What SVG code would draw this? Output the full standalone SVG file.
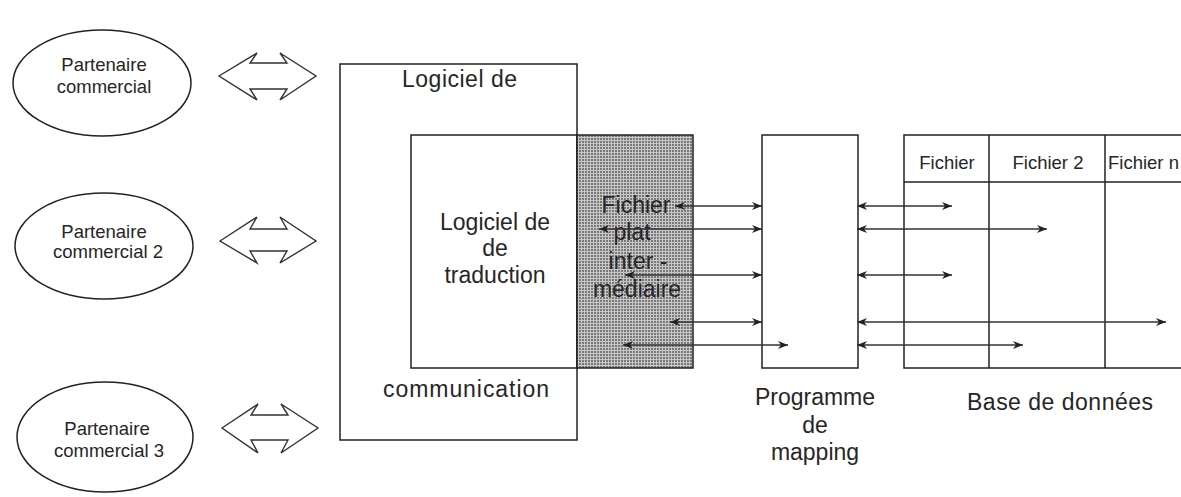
<svg xmlns="http://www.w3.org/2000/svg" width="1181" height="497" viewBox="0 0 1181 497">
<style>
.box{fill:none;stroke:#222;stroke-width:1.5}
.ell{fill:#fff;stroke:#222;stroke-width:1.5}
.dbl{fill:#fff;stroke:#333;stroke-width:1.4;stroke-linejoin:miter}
.con{stroke:#333;stroke-width:1.3;fill:none;marker-start:url(#ah);marker-end:url(#ah)}
.t{font-family:"Liberation Sans",Arial,sans-serif;fill:#262626}
.big{font-size:23px}
.sm{font-size:18.5px}
.m{text-anchor:middle}
</style>
<defs>
<pattern id="dots" width="3" height="3" patternUnits="userSpaceOnUse">
<rect width="3" height="3" fill="#c6c6c6"/>
<rect width="2" height="2" fill="#7a7a7a"/>
</pattern>
<marker id="ah" viewBox="0 0 10 8" refX="10" refY="4" markerWidth="10" markerHeight="8" markerUnits="userSpaceOnUse" orient="auto-start-reverse">
<path d="M0,0 L10,4 L0,8 L3,4 z" fill="#222"/>
</marker>
</defs>
<rect width="1181" height="497" fill="#fff"/>

<g id="partenaire1">
<ellipse class="ell" cx="102" cy="83" rx="89" ry="53"/>
<text class="t sm m" x="104" y="71">Partenaire</text>
<text class="t sm m" x="104" y="93">commercial</text>
</g>
<g id="partenaire2">
<ellipse class="ell" cx="104" cy="246" rx="89" ry="53"/>
<text class="t sm m" x="104" y="238">Partenaire</text>
<text class="t sm m" x="108" y="258">commercial  2</text>
</g>
<g id="partenaire3">
<ellipse class="ell" cx="105" cy="437" rx="88" ry="55"/>
<text class="t sm m" x="107" y="435">Partenaire</text>
<text class="t sm m" x="109" y="457">commercial  3</text>
</g>

<g id="echanges">
<polygon class="dbl" points="219,76 257,53 250,63 287,63 280,53 316,76 280,100 287,89 250,89 257,100"/>
<polygon class="dbl" points="220,241 257,217 250,229 287,229 280,217 316,241 280,263 287,251 250,251 257,263"/>
<polygon class="dbl" points="222,428 258,404 251,415 288,415 281,404 318,428 281,453 288,440 251,440 258,453"/>
</g>

<g id="communication">
<rect class="box" x="340" y="64" width="237" height="376"/>
<text class="t big" x="402" y="87" textLength="115">Logiciel de</text>
<text class="t big" x="383" y="397" textLength="166">communication</text>
</g>

<g id="traduction">
<rect class="box" x="411" y="135" width="166" height="233"/>
<text class="t big m" x="495" y="230">Logiciel de</text>
<text class="t big m" x="495" y="256">de</text>
<text class="t big m" x="495" y="283">traduction</text>
</g>

<g id="fichier-plat">
<rect x="577" y="135" width="116" height="233" fill="url(#dots)" stroke="#222" stroke-width="1.5"/>
<text class="t big m" x="636" y="213">Fichier</text>
<text class="t big m" x="632" y="240">plat</text>
<text class="t big m" x="638" y="269">inter -</text>
<text class="t big m" x="637" y="297">médiaire</text>
</g>

<g id="mapping">
<rect class="box" x="762" y="135" width="96" height="233"/>
<text class="t big m" x="815" y="405">Programme</text>
<text class="t big m" x="815" y="433">de</text>
<text class="t big m" x="815" y="460">mapping</text>
</g>

<g id="base">
<rect class="box" x="904" y="135" width="290" height="233"/>
<line class="box" x1="904" y1="182" x2="1181" y2="182"/>
<line class="box" x1="989" y1="135" x2="989" y2="368"/>
<line class="box" x1="1105" y1="135" x2="1105" y2="368"/>
<text class="t sm m" x="947" y="169">Fichier</text>
<text class="t sm m" x="1048" y="169">Fichier 2</text>
<text class="t sm" x="1108" y="169">Fichier n</text>
<text class="t big" x="967" y="410" textLength="186">Base de données</text>
</g>

<g id="connecteurs">
<line class="con" x1="675" y1="206" x2="762" y2="206"/>
<line class="con" x1="599" y1="229" x2="762" y2="229"/>
<line class="con" x1="625" y1="275" x2="762" y2="275"/>
<line class="con" x1="670" y1="322" x2="762" y2="322"/>
<line class="con" x1="623" y1="345" x2="788" y2="345"/>
<line class="con" x1="857" y1="206" x2="952" y2="206"/>
<line class="con" x1="857" y1="229" x2="1047" y2="229"/>
<line class="con" x1="857" y1="275" x2="952" y2="275"/>
<line class="con" x1="857" y1="322" x2="1166" y2="322"/>
<line class="con" x1="857" y1="345" x2="1023" y2="345"/>
</g>
</svg>
